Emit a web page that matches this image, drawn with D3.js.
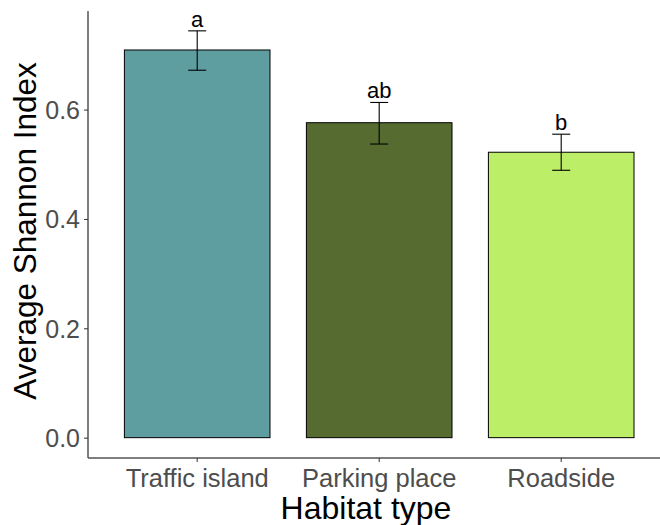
<!DOCTYPE html>
<html lang="en">
  <head>
    <meta charset="utf-8">
    <title>Average Shannon Index by habitat</title>
    <script src="https://d3js.org/d3.v7.min.js"></script>
    <style>
      body { margin: 0; background: #fff; }
      text { font-family: Arial, "Liberation Sans", sans-serif; }
    </style>
  </head>
  <body>
    <script>
      // data
      var habitats = ["Traffic island", "Parking place", "Roadside"];
      var means = [0.709, 0.576, 0.522];
      var lower = [0.672, 0.537, 0.489];
      var upper = [0.744, 0.613, 0.555];
      var letters = ["a", "ab", "b"];
      var fills = ["#5F9EA0", "#556B2F", "#BCEE68"];
      var yTicks = [0.0, 0.2, 0.4, 0.6];

      var width = 660,
          height = 525;

      var svg = d3.select("body").append("svg")
                  .attr("width", width)
                  .attr("height", height);

      // panel edges (note: "top" is taken by window.top)
      var panelLeft = 88, panelTop = 11, panelBottom = 458;

      // band layout: bars are 0.8 of a step, first bar 0.2 step from axis
      var x = d3.scaleBand()
                .domain(habitats)
                .range([panelLeft, panelLeft + 3.2 * 182])
                .paddingInner(0.2)
                .paddingOuter(0.2);

      var y = d3.scaleLinear()
                .domain([-0.0372, 0.7803])
                .range([panelBottom, panelTop]);

      var rows = habitats.map(function(h, i) {
        return {name: h, mean: means[i], lo: lower[i], hi: upper[i], letter: letters[i], fill: fills[i]};
      });

      // bars
      svg.append("g")
         .selectAll("rect")
         .data(rows)
         .join("rect")
           .attr("x", d => x(d.name))
           .attr("y", d => y(d.mean))
           .attr("width", x.bandwidth())
           .attr("height", d => y(0) - y(d.mean))
           .attr("fill", d => d.fill)
           .attr("stroke", "#000")
           .attr("stroke-width", 1);

      // error bars
      var capHalf = 9;
      var eb = svg.append("g").attr("stroke", "#000").attr("stroke-width", 1.1);
      rows.forEach(function(d) {
        var cx = x(d.name) + x.bandwidth() / 2;
        eb.append("line").attr("x1", cx).attr("x2", cx).attr("y1", y(d.lo)).attr("y2", y(d.hi));
        eb.append("line").attr("x1", cx - capHalf).attr("x2", cx + capHalf).attr("y1", y(d.lo)).attr("y2", y(d.lo));
        eb.append("line").attr("x1", cx - capHalf).attr("x2", cx + capHalf).attr("y1", y(d.hi)).attr("y2", y(d.hi));
      });

      // significance letters
      svg.append("g")
         .selectAll("text")
         .data(rows)
         .join("text")
           .attr("x", d => x(d.name) + x.bandwidth() / 2)
           .attr("y", d => y(d.hi) - 4)
           .attr("text-anchor", "middle")
           .attr("font-size", 22)
           .attr("fill", "#000")
           .text(d => d.letter);

      // y axis
      svg.append("g")
         .attr("transform", "translate(" + panelLeft + ",0)")
         .call(d3.axisLeft(y).tickValues(yTicks).tickFormat(d3.format(".1f")).tickSize(4).tickPadding(4))
         .call(g => g.select(".domain").attr("stroke", "#555").attr("stroke-width", 1.5)
                     .attr("d", "M0," + panelTop + "V" + panelBottom))
         .call(g => g.selectAll(".tick line").attr("stroke", "#333"))
         .call(g => g.selectAll(".tick text").attr("font-size", 25).attr("fill", "#4D4D4D")
                     .attr("font-family", "Arial, 'Liberation Sans', sans-serif").attr("dy", "0.36em"));

      // x axis
      svg.append("g")
         .attr("transform", "translate(0," + panelBottom + ")")
         .call(d3.axisBottom(x).tickSize(4).tickPadding(7))
         .call(g => g.select(".domain").attr("stroke", "#555").attr("stroke-width", 1.5)
                     .attr("d", "M" + panelLeft + ",0H" + width))
         .call(g => g.selectAll(".tick line").attr("stroke", "#333"))
         .call(g => g.selectAll(".tick text").attr("font-size", 25.5).attr("fill", "#4D4D4D")
                     .attr("font-family", "Arial, 'Liberation Sans', sans-serif"));

      // axis titles
      svg.append("text")
         .attr("x", 366)
         .attr("y", 519)
         .attr("text-anchor", "middle")
         .attr("font-size", 32)
         .attr("fill", "#000")
         .text("Habitat type");

      svg.append("text")
         .attr("transform", "translate(36,231) rotate(-90)")
         .attr("text-anchor", "middle")
         .attr("font-size", 31.5)
         .attr("fill", "#000")
         .text("Average Shannon Index");
    </script>
  </body>
</html>
